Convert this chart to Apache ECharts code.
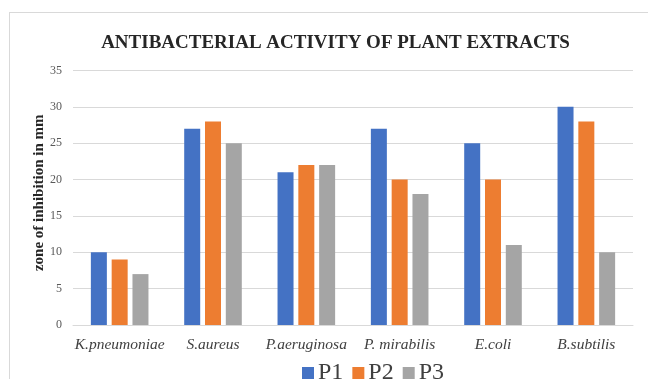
<!DOCTYPE html>
<html>
<head>
<meta charset="utf-8">
<script src="https://cdn.jsdelivr.net/npm/echarts@6/dist/echarts.min.js"></script>
<style>
  html, body { margin: 0; padding: 0; background: #fff; }
  #frame { position: absolute; left: 9px; top: 12px; width: 700px; height: 400px; border: 1px solid #d9d9d9; }
  #chart { position: absolute; left: 0; top: 0; width: 648px; height: 379px; }
</style>
</head>
<body>
<div id="frame"></div>
<div id="chart"></div>
<script>
// bacteria tested
const categories = ['K.pneumoniae', 'S.aureus', 'P.aeruginosa', 'P. mirabilis', 'E.coli', 'B.subtilis']
// zone of inhibition (mm) per extract
const p1 = [10, 27, 21, 27, 25, 30]
const p2 = [9, 28, 22, 20, 20, 28]
const p3 = [7, 25, 22, 18, 11, 10]

const serif = '"Liberation Serif", "Times New Roman", serif'

const chart = echarts.init(document.getElementById('chart'))
chart.setOption({
  animation: false,
  // title sits over the whole frame, not over the plot, so place it by hand
  graphic: [{
    type: 'text',
    x: 335.5,
    y: 43.5,
    style: {
      text: 'ANTIBACTERIAL ACTIVITY OF PLANT EXTRACTS',
      font: 'bold 19px ' + serif,
      fill: '#262626',
      align: 'center',
      verticalAlign: 'middle',
    },
  }],
  legend: {
    top: 361,
    left: 302,
    padding: 0,
    itemWidth: 12,
    itemHeight: 12,
    itemGap: 9,
    icon: 'rect',
    textStyle: { fontFamily: serif, fontSize: 24, color: '#404040', padding: [0, 0, 0, -1] },
  },
  grid: { left: 73, right: 15, top: 70.5, bottom: 54 },
  xAxis: {
    type: 'category',
    data: categories,
    axisLine: { lineStyle: { color: '#d9d9d9' } },
    axisTick: { show: false },
    axisLabel: { fontFamily: serif, fontSize: 15.5, fontStyle: 'italic', color: '#404040', margin: 12, interval: 0 },
  },
  yAxis: {
    type: 'value',
    min: 0,
    max: 35,
    interval: 5,
    name: 'zone of inhibition in mm',
    nameLocation: 'middle',
    nameGap: 26,
    nameMoveOverlap: false,
    nameTextStyle: { fontFamily: serif, fontSize: 15, fontWeight: 'bold', color: '#262626', padding: [0, 0, 0, 10] },
    axisLabel: { fontFamily: serif, fontSize: 12, color: '#595959', margin: 11 },
    splitLine: { lineStyle: { color: '#d9d9d9' } },
  },
  series: [
    { name: 'P1', type: 'bar', data: p1, barWidth: 16, barGap: '30%', itemStyle: { color: '#4472c4' } },
    { name: 'P2', type: 'bar', data: p2, barWidth: 16, itemStyle: { color: '#ed7d31' } },
    { name: 'P3', type: 'bar', data: p3, barWidth: 16, itemStyle: { color: '#a5a5a5' } },
  ],
})
</script>
</body>
</html>
